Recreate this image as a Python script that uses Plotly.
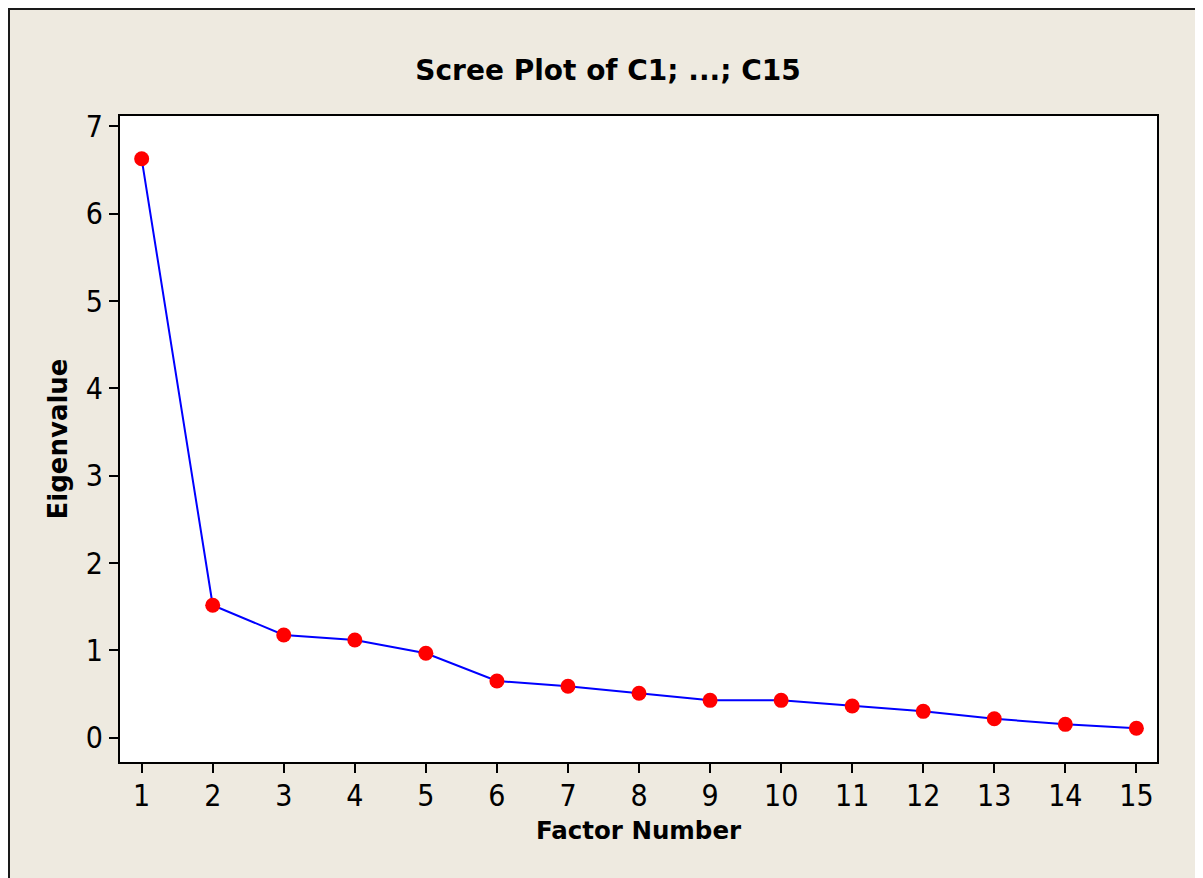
import plotly.graph_objects as go

factors = list(range(1, 16))
eigenvalues = [6.63, 1.517, 1.177, 1.119, 0.967, 0.65, 0.59, 0.51, 0.428, 0.428, 0.363, 0.302, 0.218, 0.153, 0.108]
x_ticks = list(range(1, 16))
y_ticks = [0, 1, 2, 3, 4, 5, 6, 7]

# page has an 8px body margin; figure sized so plot area lands at 120..1157 x 116..762
W, H = 1195, 870
L, R, T, B = 112, 46, 108, 116
pw, ph = W - L - R, H - T - B
OFF = 8

def px(x):  # page x -> paper
    return (x - OFF - L) / pw

def py(y):  # page y -> paper
    return (H - B - (y - OFF)) / ph

fig = go.Figure()
fig.add_trace(go.Scatter(
    x=factors, y=eigenvalues, mode="lines+markers",
    line=dict(color="#0000FF", width=2),
    marker=dict(color="#FF0000", size=15, symbol="circle"),
    showlegend=False,
))

fig.add_shape(type="rect", xref="paper", yref="paper",
              x0=px(9), x1=px(1215), y0=py(890), y1=py(9),
              line=dict(color="#1a1a1a", width=2), fillcolor="rgba(0,0,0,0)", layer="below")

tickfont = dict(family="Liberation Sans Narrow, DejaVu Sans Condensed, DejaVu Sans", size=30, color="black")
fig.update_layout(
    width=W, height=H,
    margin=dict(l=L, r=R, t=T, b=B),
    paper_bgcolor="#EEEAE0",
    plot_bgcolor="white",
    title=dict(text="<b>Scree Plot of C1; ...; C15</b>", x=px(608), xanchor="center", xref="paper",
               y=1 - (70 - OFF) / H, yanchor="middle",
               font=dict(family="DejaVu Sans", size=28, color="black")),
    xaxis=dict(range=[0.695, 15.29], tickvals=x_ticks, ticktext=[str(v) for v in x_ticks],
               showgrid=False, zeroline=False, showline=True, linecolor="black", linewidth=2,
               mirror=True, ticks="outside", ticklen=9, tickwidth=2, tickcolor="black",
               ticklabelstandoff=-3,
               tickfont=tickfont,
               title=dict(text="<b>Factor Number</b>", standoff=10,
                          font=dict(family="DejaVu Sans", size=24.5, color="black"))),
    yaxis=dict(range=[-0.278, 7.12], tickvals=y_ticks, ticktext=[str(v) for v in y_ticks],
               showgrid=False, zeroline=False, showline=True, linecolor="black", linewidth=2,
               mirror=True, ticks="outside", ticklen=9, tickwidth=2, tickcolor="black",
               tickfont=tickfont,
               title=dict(text="<b>Eigenvalue</b>", standoff=11,
                          font=dict(family="DejaVu Sans", size=26, color="black"))),
)

fig.write_html("out.html")
